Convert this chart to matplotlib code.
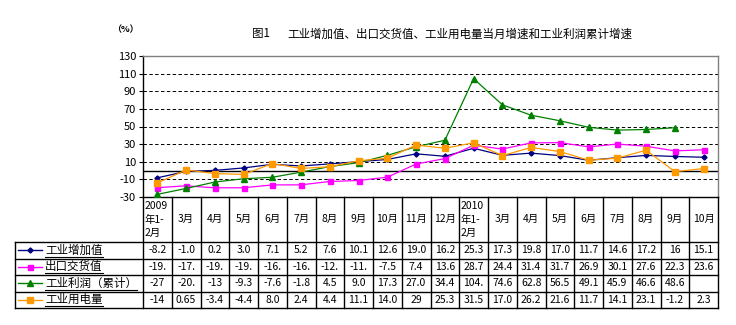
import matplotlib
matplotlib.use("Agg")
from matplotlib import pyplot as plt
import numpy as np

plt.rcParams['font.family'] = ['Noto Sans CJK SC', 'DejaVu Sans']

# categories
months_2009 = ["2009\n年1-\n2月", "3月", "4月", "5月", "6月", "7月", "8月", "9月", "10月", "11月", "12月"]
months_2010 = ["2010\n年1-\n2月", "3月", "4月", "5月", "6月", "7月", "8月", "9月", "10月"]
categories = months_2009 + months_2010

# series (ints where the table shows no decimals)
iva = [-8.2, -1.0, 0.2, 3.0, 7.1, 5.2, 7.6, 10.1, 12.6, 19.0, 16.2,
       25.3, 17.3, 19.8, 17.0, 11.7, 14.6, 17.2, 16, 15.1]
export = [-19.4, -17.3, -19.6, -19.5, -16.3, -16.2, -12.4, -11.3, -7.5, 7.4, 13.6,
          28.7, 24.4, 31.4, 31.7, 26.9, 30.1, 27.6, 22.3, 23.6]
profit = [-27, -20.3, -13, -9.3, -7.6, -1.8, 4.5, 9.0, 17.3, 27.0, 34.4,
          104.3, 74.6, 62.8, 56.5, 49.1, 45.9, 46.6, 48.6, None]
power = [-14, 0.65, -3.4, -4.4, 8.0, 2.4, 4.4, 11.1, 14.0, 29, 25.3,
         31.5, 17.0, 26.2, 21.6, 11.7, 14.1, 23.1, -1.2, 2.3]

names = ["工业增加值", "出口交货值", "工业利润（累计）", "工业用电量"]
colors = ["#000080", "#FF00FF", "#008000", "#FF9900"]
markers = ["D", "s", "^", "s"]
msizes = [2.6, 3.6, 4.0, 5.0]
series = [iva, export, profit, power]

yticks = np.arange(-30, 131, 20)

W, H = 736, 325
# plot area in pixels
L, R, T, B = 143, 718, 56, 197

fig = plt.figure(figsize=(W / 100, H / 100), dpi=100)
fig.patch.set_facecolor("white")

ax = fig.add_axes([L / W, 1 - B / H, (R - L) / W, (B - T) / H])
n = len(categories)
x = np.arange(n)
for vals, c, m, ms in zip(series, colors, markers, msizes):
    y = np.array([np.nan if v is None else v for v in vals], dtype=float)
    ax.plot(x, y, color=c, lw=0.9, marker=m, ms=ms, mec=c, mfc=c, zorder=3)

for g in yticks[1:-1]:
    ax.axhline(g, color="black", lw=0.7, ls=(0, (3.5, 2.5)), zorder=1)
ax.axhline(0, color="black", lw=1.0, zorder=2)

ax.set_xlim(-0.5, n - 0.5)
ax.set_ylim(-30, 130)
ax.set_yticks(yticks)
ax.set_yticklabels([str(t) for t in yticks], fontsize=8)
ax.set_xticks([])
ax.tick_params(axis="y", length=3, width=0.8, pad=2)
ax.spines["left"].set_color("black")
ax.spines["bottom"].set_color("black")
ax.spines["top"].set_color("#808080")
ax.spines["right"].set_color("#808080")
for s in ax.spines.values():
    s.set_linewidth(1.0)

# overlay in pixel coords for title and data table
ov = fig.add_axes([0, 0, 1, 1], zorder=5)
ov.set_xlim(0, W)
ov.set_ylim(H, 0)
ov.axis("off")
ov.patch.set_alpha(0)

ov.text(252, 34, "图1", fontsize=8.3, va="center", ha="left")
ov.text(287, 34, "工业增加值、出口交货值、工业用电量当月增速和工业利润累计增速",
        fontsize=8.3, va="center", ha="left")
ov.text(112, 30, "（%）", fontsize=6.5, va="center", ha="left", fontweight="bold")

colw = (R - L) / n
rows = [242, 258.5, 275, 291.5, 308]
lk = dict(color="black", lw=1.0)

# category row
for i in range(n + 1):
    xx = L + i * colw
    ov.plot([xx, xx], [B, rows[-1]], **lk)
for i, lab in enumerate(categories):
    cx = L + (i + 0.5) * colw
    if "\n" in lab:
        for j, part in enumerate(lab.split("\n")):
            ov.text(L + i * colw + 1.5, 206 + j * 13.5, part, fontsize=7.5,
                    ha="left", va="center")
    else:
        ov.text(cx, 219, lab, fontsize=7.5, ha="center", va="center")

# table grid
for yy in rows:
    ov.plot([15, R], [yy, yy], **lk)
ov.plot([15, 15], [rows[0], rows[-1]], **lk)

fig.canvas.draw()
rend = fig.canvas.get_renderer()
for r, (name, vals, c, m, ms) in enumerate(zip(names, series, colors, markers, msizes)):
    cy = (rows[r] + rows[r + 1]) / 2
    ov.plot([18, 42], [cy, cy], color=c, lw=1.0)
    ov.plot([30], [cy], marker=m, color=c, ms=ms)
    t = ov.text(45, cy, name, fontsize=8.3, ha="left", va="center")
    bb = t.get_window_extent(rend)
    ov.plot([bb.x0, bb.x1], [cy + 6.5, cy + 6.5], color="black", lw=0.8)
    for i, v in enumerate(vals):
        if v is None:
            continue
        ov.text(L + (i + 0.5) * colw, cy, str(v)[:4], fontsize=7.5,
                ha="center", va="center")

fig.savefig("out.png", dpi=100)
